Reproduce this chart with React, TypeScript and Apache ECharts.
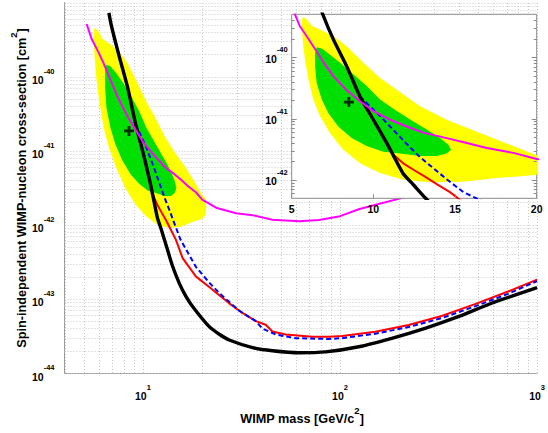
import { useEffect, useRef } from "react";
import * as echarts from "echarts";

// Cross-sections are plotted in units of 1e-44 cm^2 (labels show real powers of ten)
const SIGMA_UNIT = 1e-44;

const mainMassRange = [4, 1000];
const mainSigmaRange = [1e-44, 1e-39];
const insetMassRange = [5, 20];
const insetSigmaRange = [5e-43, 5e-40];

const mainMassLabels = [10, 100, 1000];
const mainSigmaLabels = [1e-44, 1e-43, 1e-42, 1e-41, 1e-40];
const insetSigmaLabels = [1e-42, 1e-41, 1e-40];
const insetMassTicks = [5, 10, 15, 20];

const gridMultipliers = [1, 2, 3, 4, 5, 6, 7, 8, 9];
const massDecades = [1, 10, 100, 1000];
const sigmaDecades = [1e-44, 1e-43, 1e-42, 1e-41, 1e-40, 1e-39];

// [WIMP mass GeV/c^2, cross-section cm^2]
const blackLimit = [
  [6.72, 7.24e-40], [6.9, 5.01e-40], [7.55, 1.95e-40], [8.37, 7.08e-41],
  [9.18, 2.29e-41], [10.0, 9.55e-42], [10.82, 3.98e-42], [11.22, 2.51e-42],
  [11.83, 1.26e-42], [12.45, 8.32e-43], [13.2, 5.01e-43], [14.1, 2.82e-43],
  [15.3, 1.62e-43], [16.5, 1.09e-43], [17.9, 7.85e-44], [21.7, 4.22e-44],
  [24.5, 3.31e-44], [27.4, 2.79e-44], [36.0, 2.2e-44], [45.4, 2.0e-44],
  [62, 1.88e-44], [84.5, 1.93e-44], [124.5, 2.26e-44], [183, 2.94e-44],
  [270, 4.01e-44], [398, 5.75e-44], [587, 8.73e-44], [1000, 1.42e-43],
];

const redLimit = [
  [9.2, 2.29e-41], [10.0, 9.55e-42], [10.71, 4.47e-42], [11.22, 2.57e-42],
  [11.83, 1.86e-42], [12.45, 1.46e-42], [13.06, 1.17e-42], [13.88, 8.51e-43],
  [14.69, 6.31e-43], [15.9, 3.55e-43], [18.6, 2.0e-43], [21.7, 1.45e-43],
  [24.4, 1.12e-43], [27.4, 8.71e-44], [32.0, 6.46e-44], [37.4, 5.01e-44],
  [42.0, 4.47e-44], [45.4, 3.63e-44], [53.1, 3.31e-44], [72.3, 3.09e-44],
  [87.8, 3.09e-44], [102.5, 3.16e-44], [151, 3.61e-44], [223, 4.45e-44],
  [328, 5.89e-44], [484, 8.51e-44], [713, 1.26e-43], [1000, 1.82e-43],
];

const blueLimit = [
  [9.18, 2.29e-41], [9.79, 1.58e-41], [10.41, 1.1e-41], [11.02, 7.41e-42],
  [11.63, 5.01e-42], [12.24, 3.39e-42], [12.86, 2.34e-42], [13.67, 1.55e-42],
  [14.49, 1.02e-42], [15.51, 6.31e-43], [16.53, 4.68e-43], [18.6, 2.69e-43],
  [21.7, 1.66e-43], [24.4, 1.2e-43], [27.4, 9.12e-44], [30.8, 6.92e-44],
  [37.4, 5.01e-44], [40.4, 3.98e-44], [47.2, 3.31e-44], [59.6, 2.95e-44],
  [87.8, 2.88e-44], [102.5, 2.95e-44], [151, 3.39e-44], [223, 4.17e-44],
  [328, 5.5e-44], [484, 7.94e-44], [713, 1.17e-43], [1000, 1.74e-43],
];

const magentaLimit = [
  [5.18, 5.13e-40], [5.51, 3.16e-40], [5.92, 2.19e-40], [6.32, 1.51e-40],
  [6.94, 8.32e-41], [7.55, 4.9e-41], [8.37, 2.88e-41], [9.18, 1.91e-41],
  [10.0, 1.32e-41], [11.02, 9.55e-42], [12.04, 7.41e-42], [13.06, 5.89e-42],
  [14.49, 4.79e-42], [15.72, 3.98e-42], [16.94, 3.31e-42], [18.57, 2.75e-42],
  [20.0, 2.19e-42], [23.5, 1.7e-42], [29.7, 1.43e-42], [36.0, 1.35e-42],
  [45.4, 1.17e-42], [62, 1.12e-42], [78.2, 1.16e-42], [98.6, 1.29e-42],
  [124.5, 1.62e-42], [157, 1.91e-42], [198, 2.24e-42], [250, 2.63e-42],
  [320, 3.16e-42],
];

const yellowContour = [
  [5.67, 4.57e-40], [5.61, 3.63e-40], [5.67, 1.95e-40], [5.81, 9.12e-41],
  [6.02, 4.37e-41], [6.32, 2.04e-41], [6.73, 1.1e-41], [7.35, 5.75e-42],
  [8.16, 3.09e-42], [9.18, 1.86e-42], [10.41, 1.29e-42], [11.83, 1.0e-42],
  [13.47, 9.12e-43], [15.51, 9.33e-43], [17.55, 1.07e-42], [19.9, 1.2e-42],
  [20.7, 1.35e-42], [21.0, 1.74e-42], [20.7, 2.29e-42], [19.9, 2.57e-42],
  [18.57, 3.55e-42], [16.53, 5.82e-42], [14.49, 9.55e-42], [12.86, 1.58e-41],
  [11.43, 2.95e-41], [10.41, 4.57e-41], [9.39, 8.13e-41], [8.37, 1.51e-40],
  [7.55, 2.19e-40], [6.73, 2.82e-40], [6.22, 3.24e-40], [5.92, 4.17e-40],
];

const greenContour = [
  [6.53, 1.45e-40], [6.43, 1.17e-40], [6.43, 7.08e-41], [6.53, 3.8e-41],
  [6.84, 2.04e-41], [7.24, 1.23e-41], [7.85, 7.41e-42], [8.67, 4.79e-42],
  [9.59, 3.55e-42], [10.61, 2.88e-42], [11.63, 2.69e-42], [12.86, 2.45e-42],
  [13.88, 2.45e-42], [14.49, 2.69e-42], [14.76, 3.09e-42], [14.59, 3.72e-42],
  [14.08, 4.79e-42], [13.27, 6.61e-42], [12.45, 8.91e-42], [11.43, 1.32e-41],
  [10.41, 2.04e-41], [9.59, 3.39e-41], [8.77, 5.25e-41], [7.96, 8.13e-41],
  [7.35, 1.1e-40], [6.84, 1.38e-40],
];

const bestFit = [[8.5, 1.85e-41]];

const FONT = '"Liberation Sans", Arial, Helvetica, sans-serif';
const YELLOW = "#ffff00";
const GREEN = "#00e000";

const toPlot = (pts: number[][]) => pts.map(([m, s]) => [m, s / SIGMA_UNIT]);
const sameLog = (a: number, b: number) =>
  Math.abs(Math.log10(a) - Math.log10(b)) < 1e-6;

const powLabel = (realValue: number, labels: number[]) => {
  if (!labels.some((l) => sameLog(realValue, l))) return "";
  const e = Math.round(Math.log10(realValue));
  return `{b|10}{s|${e}}`;
};

const powRich = {
  b: { fontSize: 10.5, fontWeight: "bold", fontFamily: FONT, color: "#000", lineHeight: 26, verticalAlign: "middle" },
  s: { fontSize: 7.5, fontWeight: "bold", fontFamily: FONT, color: "#000", lineHeight: 8, verticalAlign: "top" },
};

const titleRich = {
  t: { fontSize: 12.7, fontWeight: "bold", fontFamily: FONT, color: "#000", lineHeight: 28, verticalAlign: "middle" },
  s: { fontSize: 9.5, fontWeight: "bold", fontFamily: FONT, color: "#000", lineHeight: 10, verticalAlign: "top" },
};

function buildOption() {
  const Y0 = mainSigmaRange[0] / SIGMA_UNIT;
  const Y1 = mainSigmaRange[1] / SIGMA_UNIT;
  const X0 = mainMassRange[0];
  const X1 = mainMassRange[1];

  const xGridValues = massDecades
    .flatMap((d) => gridMultipliers.map((k) => k * d))
    .filter((v) => v >= X0 - 1e-9 && v <= X1 + 1e-9);
  const yGridValues = sigmaDecades
    .flatMap((d) => gridMultipliers.map((k) => k * d))
    .filter((v) => v >= mainSigmaRange[0] * 0.999 && v <= mainSigmaRange[1] * 1.001);
  const insetTickValues = sigmaDecades
    .flatMap((d) => gridMultipliers.map((k) => k * d))
    .filter((v) => v > insetSigmaRange[0] * 1.001 && v < insetSigmaRange[1] * 0.999);

  const gridStyle = { stroke: "#c9c9c9", lineWidth: 1, lineDash: [1, 2] };
  const snap = (v: number) => Math.round(v) + 0.5;

  const polygonSeries = (pts: number[][], color: string, idx: number, z: number) => {
    const plotPts = toPlot(pts);
    return {
      type: "custom",
      xAxisIndex: idx,
      yAxisIndex: idx,
      silent: true,
      clip: true,
      z,
      data: plotPts,
      renderItem: (params: any, api: any) => {
        if (params.dataIndex !== 0) return null;
        return {
          type: "polygon",
          shape: { points: plotPts.map((p) => api.coord(p)) },
          style: { fill: color, stroke: null },
        };
      },
    };
  };

  const lineSeries = (pts: number[][], color: string, width: number, idx: number, z: number, dash?: number[], smooth?: number) => ({
    type: "line",
    xAxisIndex: idx,
    yAxisIndex: idx,
    data: toPlot(pts),
    symbol: "none",
    showSymbol: false,
    silent: true,
    clip: true,
    smooth: smooth ?? false,
    z,
    lineStyle: { color, width, type: dash ?? "solid", cap: "butt", join: "round" },
  });

  const crossSeries = (idx: number, z: number) => ({
    type: "scatter",
    xAxisIndex: idx,
    yAxisIndex: idx,
    data: toPlot(bestFit),
    symbol: "path://M3.6,0h2.8v3.6h3.6v2.8h-3.6v3.6h-2.8v-3.6h-3.6v-2.8h3.6z",
    symbolSize: 10,
    itemStyle: { color: "#000" },
    silent: true,
    z,
  });

  const curves = (idx: number, z: number) => [
    polygonSeries(yellowContour, YELLOW, idx, z),
    polygonSeries(greenContour, GREEN, idx, z),
    lineSeries(redLimit, "#ff0000", 2, idx, z),
    lineSeries(blueLimit, "#0000ff", 2, idx, z, [5, 3]),
    lineSeries(blackLimit, "#000000", 3.4, idx, z, undefined, 0.2),
    lineSeries(magentaLimit, "#ff00ff", 2, idx, z),
    crossSeries(idx, z),
  ];

  return {
    animation: false,
    backgroundColor: "#ffffff",
    textStyle: { fontFamily: FONT },
    grid: [
      { left: 64.5, top: 2.5, width: 474.5, height: 370.5, show: false },
      {
        left: 291.7, top: 14.3, width: 245, height: 184, show: true,
        backgroundColor: "#ffffff", borderColor: "#8a8a8a", borderWidth: 1, z: 10,
      },
    ],
    xAxis: [
      {
        gridIndex: 0, type: "log", logBase: 10, min: X0, max: X1,
        axisLine: { show: true, onZero: false, lineStyle: { color: "#9a9a9a", width: 1 } },
        axisTick: { show: false },
        splitLine: { show: false },
        axisLabel: {
          margin: 10, hideOverlap: false,
          formatter: (v: number) => powLabel(v, mainMassLabels),
          rich: powRich,
        },
      },
      {
        gridIndex: 1, type: "value", min: insetMassRange[0], max: insetMassRange[1], interval: 5, z: 13,
        axisLine: { show: false, onZero: false },
        axisTick: { show: true, inside: true, length: 4, lineStyle: { color: "#8a8a8a" } },
        splitLine: { show: false },
        axisLabel: {
          margin: 5, fontSize: 10.5, fontWeight: "bold", color: "#000", fontFamily: FONT,
          formatter: (v: number) => (insetMassTicks.includes(v) ? String(v) : ""),
        },
      },
    ],
    yAxis: [
      {
        gridIndex: 0, type: "log", logBase: 10, min: Y0, max: Y1,
        axisLine: { show: true, onZero: false, lineStyle: { color: "#9a9a9a", width: 1 } },
        axisTick: { show: false },
        splitLine: { show: false },
        axisLabel: {
          margin: 10, padding: [7, 0, 0, 0],
          formatter: (v: number) => powLabel(v * SIGMA_UNIT, mainSigmaLabels),
          rich: powRich,
        },
      },
      {
        gridIndex: 1, type: "log", logBase: 10,
        min: insetSigmaRange[0] / SIGMA_UNIT, max: insetSigmaRange[1] / SIGMA_UNIT, z: 13,
        axisLine: { show: false, onZero: false },
        axisTick: { show: false },
        splitLine: { show: false },
        axisLabel: {
          margin: 4, padding: [3, 0, 0, 0],
          formatter: (v: number) => powLabel(v * SIGMA_UNIT, insetSigmaLabels),
          rich: powRich,
        },
      },
    ],
    graphic: [
      {
        type: "text", x: 22, y: 188, rotation: Math.PI / 2,
        style: {
          text: "{t|Spin-independent WIMP-nucleon cross-section [cm}{s|2}{t|]}",
          rich: titleRich, align: "center", verticalAlign: "middle",
        },
      },
      {
        type: "text", x: 302, y: 419,
        style: {
          text: "{t|WIMP mass [GeV/c}{s|2}{t|]}",
          rich: titleRich, align: "center", verticalAlign: "middle",
        },
      },
    ],
    series: [
      {
        type: "custom", xAxisIndex: 0, yAxisIndex: 0, silent: true, z: 1,
        data: xGridValues.map((v) => [v, Y0]),
        renderItem: (params: any, api: any) => {
          const v = api.value(0);
          const a = api.coord([v, Y0]);
          const b = api.coord([v, Y1]);
          return { type: "line", shape: { x1: snap(a[0]), y1: a[1], x2: snap(b[0]), y2: b[1] }, style: gridStyle };
        },
      },
      {
        type: "custom", xAxisIndex: 0, yAxisIndex: 0, silent: true, z: 1,
        data: yGridValues.map((v) => [X0, v / SIGMA_UNIT]),
        renderItem: (params: any, api: any) => {
          const v = api.value(1);
          const a = api.coord([X0, v]);
          const b = api.coord([X1, v]);
          return { type: "line", shape: { x1: a[0], y1: snap(a[1]), x2: b[0], y2: snap(b[1]) }, style: gridStyle };
        },
      },
      ...curves(0, 2),
      ...curves(1, 12),
      {
        type: "custom", xAxisIndex: 1, yAxisIndex: 1, silent: true, z: 13,
        data: insetTickValues.map((v) => [insetMassRange[0], v / SIGMA_UNIT]),
        renderItem: (params: any, api: any) => {
          const v = api.value(1);
          const major = insetSigmaLabels.some((l) => sameLog(v * SIGMA_UNIT, l));
          const len = major ? 5 : 3;
          const l = api.coord([insetMassRange[0], v]);
          const r = api.coord([insetMassRange[1], v]);
          const st = { stroke: "#8a8a8a", lineWidth: 1 };
          return {
            type: "group",
            children: [
              { type: "line", shape: { x1: l[0], y1: snap(l[1]), x2: l[0] + len, y2: snap(l[1]) }, style: st },
              { type: "line", shape: { x1: r[0], y1: snap(r[1]), x2: r[0] - len, y2: snap(r[1]) }, style: st },
            ],
          };
        },
      },
    ],
  };
}

export default function App() {
  const ref = useRef<HTMLDivElement>(null);
  useEffect(() => {
    document.body.style.margin = "0";
    const chart = echarts.init(ref.current as HTMLDivElement, undefined, {
      renderer: "svg",
      width: 548,
      height: 433,
    });
    chart.setOption(buildOption() as any);
    return () => chart.dispose();
  }, []);
  return <div ref={ref} style={{ width: 548, height: 433 }} />;
}
